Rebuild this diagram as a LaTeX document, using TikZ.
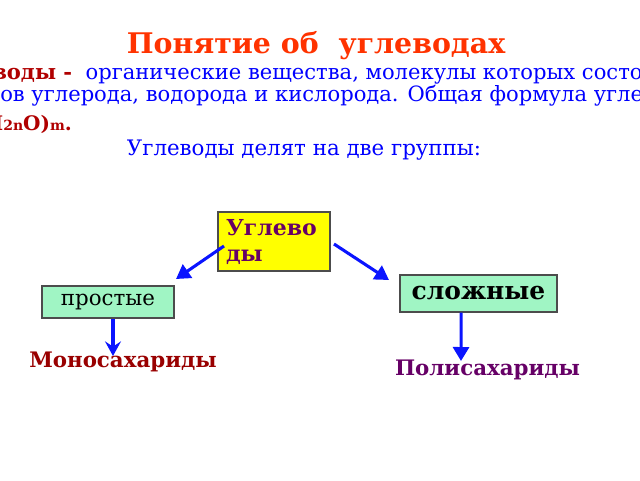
\documentclass[tikz,border=0pt]{standalone}
\usepackage{fontspec}
\setmainfont{DejaVu Serif}
\usetikzlibrary{arrows.meta}
\definecolor{titlered}{HTML}{FF3300}
\definecolor{txtblue}{HTML}{0000FF}
\definecolor{dred}{HTML}{B00000}
\definecolor{monored}{HTML}{990000}
\definecolor{purp}{HTML}{660066}
\definecolor{boxgreen}{HTML}{A0F5C4}
\definecolor{boxyellow}{HTML}{FFFF00}
\definecolor{arrblue}{HTML}{0A14FF}
\begin{document}
\begin{tikzpicture}[x=0.75pt,y=-0.75pt,
  box/.style={draw=black!70, line width=0.9pt, inner sep=0pt},
  line/.style={anchor=base west, inner sep=0pt, font=\fontsize{15.8}{18}\selectfont, text=txtblue},
  arr/.style={draw=arrblue, line width=2.3pt, -{Triangle[length=10.5pt,width=12pt]}},
  arrs/.style={draw=arrblue, line width=2.3pt, -{Stealth[length=11pt,width=12pt,inset=4pt]}},
  res/.style={inner sep=0pt, font=\fontsize{16}{19}\selectfont\bfseries}]
\useasboundingbox (0,0) rectangle (640,480);
\clip (0,0) rectangle (640,480);
\node[anchor=base, inner sep=0pt, font=\fontsize{21.3}{25}\selectfont\bfseries, text=titlered] (title) at (316,53) {Понятие об\ \ углеводах};
\node[line] (l1) at (-8,79) {\textcolor{dred}{\bfseries\llap{Угле}воды -}\ \ органические вещества, молекулы которых состоят из};
\node[line] (l2) at (0,101) {\llap{атом}ов углерода, водорода и кислорода. Общая формула углеводов};
\node[line, text=dred, font=\fontsize{15}{18}\selectfont\bfseries] (l3) at (3,130) {\llap{C\raisebox{-1pt}{\fontsize{10.5}{10}\selectfont n}(H}\raisebox{-0.5pt}{\fontsize{10.5}{10}\selectfont 2n}O)\raisebox{-0.5pt}{\fontsize{10.5}{10}\selectfont m}.};
\node[anchor=base, inner sep=0pt, font=\fontsize{16}{19}\selectfont, text=txtblue] (l4) at (304,155) {Углеводы делят на две группы:};
\node[box, fill=boxyellow, minimum width=84pt, minimum height=44.25pt, text width=78pt, align=left, text=purp, font=\fontsize{16.5}{19.5}\selectfont\bfseries] (ug) at (274,241.5) {\hspace*{3pt}Углево\\\hspace*{3pt}ды};
\node[box, fill=boxgreen, minimum width=99pt, minimum height=24pt, font=\fontsize{16}{19}\selectfont] (prost) at (108,302) {простые};
\node[box, fill=boxgreen, minimum width=117.75pt, minimum height=27.75pt, font=\fontsize{18.7}{22}\selectfont\bfseries] (slozh) at (478.5,293.5) {сложные};
\node[res, text=monored] (mono) at (123,362) {Моносахариды};
\node[res, text=purp] (poly) at (487.5,370) {Полисахариды};
\coordinate (a1s) at (224,246);
\coordinate (a1e) at (176,279);
\coordinate (a2s) at (334,244);
\coordinate (a2e) at (389,280);
\draw[arr] (a1s) -- (a1e);
\draw[arr] (a2s) -- (a2e);
\draw[arrs] ([xshift=3.75pt]prost.south) -- (113,356);
\draw[arr] ([xshift=-13pt]slozh.south) -- (461,361);
\end{tikzpicture}
\end{document}
